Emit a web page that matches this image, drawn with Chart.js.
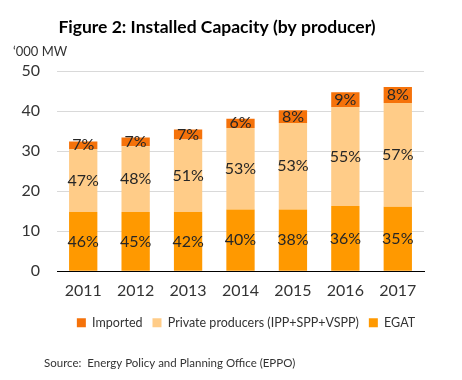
<!DOCTYPE html>
<html>
<head>
<meta charset="utf-8">
<script src="https://cdn.jsdelivr.net/npm/chart.js@4.4.1/dist/chart.umd.min.js"></script>
<style>
  body{margin:0;background:#fff;}
  #wrap{position:relative;width:462px;height:380px;}
</style>
</head>
<body>
<div id="wrap"><canvas id="myChart" width="462" height="380"></canvas></div>
<script>
// data ('000 MW)
const years = ['2011','2012','2013','2014','2015','2016','2017'];
const egat = [14.8, 14.8, 14.8, 15.4, 15.4, 16.3, 16.1];
const privateProd = [15.7, 16.4, 18.1, 20.4, 21.6, 24.7, 25.9];
const imported = [1.9, 2.2, 2.5, 2.3, 3.2, 3.7, 4.0];
const egatPct = ['46%','45%','42%','40%','38%','36%','35%'];
const privatePct = ['47%','48%','51%','53%','53%','55%','57%'];
const importedPct = ['7%','7%','7%','6%','8%','9%','8%'];
const yTicks = [0, 10, 20, 30, 40, 50];

const FONT = 'Lato, "Open Sans", sans-serif';

// percent labels in the middle of each segment
const pctLabels = {
  id: 'pctLabels',
  afterDatasetsDraw(chart) {
    const ctx = chart.ctx;
    ctx.save();
    ctx.font = '16px ' + FONT;
    ctx.fillStyle = '#262626';
    ctx.textAlign = 'center';
    ctx.textBaseline = 'middle';
    chart.data.datasets.forEach((ds, i) => {
      const meta = chart.getDatasetMeta(i);
      meta.data.forEach((bar, j) => {
        ctx.fillText(ds.pct[j], bar.x, (bar.y + bar.base) / 2);
      });
    });
    ctx.restore();
  }
};

// unit label and source line
const extraText = {
  id: 'extraText',
  afterDraw(chart) {
    const ctx = chart.ctx;
    ctx.save();
    ctx.fillStyle = '#333';
    ctx.textAlign = 'left';
    ctx.textBaseline = 'middle';
    ctx.font = '13px ' + FONT;
    ctx.fillText('\u2018000 MW', 13, 52);
    ctx.font = '11.5px ' + FONT;
    ctx.fillText('Source:  Energy Policy and Planning Office (EPPO)', 44, 363);
    ctx.restore();
  }
};

// legend sits centred on the page in the original, nudge it over
const legendShift = {
  id: 'legendShift',
  afterLayout(chart) {
    const lg = chart.legend;
    lg.left += 29; lg.right += 29;
    lg.top += 4; lg.bottom += 4;
  }
};

const myChart = document.getElementById('myChart').getContext('2d');
const chart = new Chart(myChart, {
  type: 'bar',
  data: {
    labels: years,
    datasets: [
      { label: 'EGAT', data: egat, pct: egatPct, backgroundColor: '#FF9900' },
      { label: 'Private producers (IPP+SPP+VSPP)', data: privateProd, pct: privatePct, backgroundColor: '#FFCC88' },
      { label: 'Imported', data: imported, pct: importedPct, backgroundColor: '#F5720A' }
    ]
  },
  options: {
    responsive: false,
    animation: false,
    barPercentage: 0.54,
    categoryPercentage: 1,
    layout: { padding: { left: 10, right: 38, top: 0, bottom: 45 } },
    plugins: {
      title: {
        display: true,
        text: 'Figure 2: Installed Capacity (by producer)',
        color: '#000',
        font: { family: FONT, size: 17.5, weight: 'bold' },
        padding: { top: 17, bottom: 33 }
      },
      legend: {
        position: 'bottom',
        reverse: true,
        labels: {
          boxWidth: 9, boxHeight: 9,
          color: '#333',
          font: { family: FONT, size: 12.5 },
          padding: 10
        }
      },
      tooltip: { enabled: false }
    },
    scales: {
      x: {
        stacked: true,
        grid: { display: false },
        border: { color: '#000', width: 1 },
        ticks: { color: '#333', font: { family: FONT, size: 16 }, padding: 2 }
      },
      y: {
        stacked: true,
        min: 0, max: 50,
        afterBuildTicks(axis) { axis.ticks = yTicks.map(v => ({ value: v })); },
        afterFit(axis) { axis.width = 47; },
        grid: { color: '#d9d9d9', drawTicks: false },
        border: { display: false },
        ticks: { color: '#333', font: { family: FONT, size: 16 }, padding: 17 }
      }
    }
  },
  plugins: [pctLabels, extraText, legendShift]
});
</script>
</body>
</html>
